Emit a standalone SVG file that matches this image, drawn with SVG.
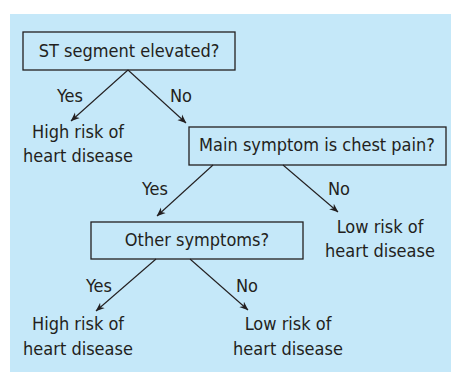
<svg xmlns="http://www.w3.org/2000/svg" width="451" height="372" viewBox="0 0 451 372">
<defs>
<marker id="ah" viewBox="0 0 10 10" refX="9.5" refY="5" markerWidth="9" markerHeight="9" orient="auto" markerUnits="userSpaceOnUse">
<path d="M0,1 L10,5 L0,9 L3,5 Z" fill="#231f20"/>
</marker>
<style>
text{font-family:"DejaVu Sans Condensed","DejaVu Sans",sans-serif;font-stretch:condensed;font-size:18px;fill:#231f20;text-anchor:middle}
.box{fill:none;stroke:#231f20;stroke-width:1.3}
.c line{stroke:#231f20;stroke-width:1.1;marker-end:url(#ah)}
</style>
</defs>
<rect x="10" y="14" width="441" height="358" fill="#c5e8f9"/>
<g id="q1"><rect class="box" x="23" y="32" width="212" height="38"/><text x="129" y="57">ST segment elevated?</text></g>
<g id="r1"><text x="78" y="138">High risk of</text><text x="78" y="162">heart disease</text></g>
<g id="q2"><rect class="box" x="189" y="127" width="257" height="38"/><text x="317" y="151">Main symptom is chest pain?</text></g>
<g id="r2"><text x="380" y="233">Low risk of</text><text x="380" y="257">heart disease</text></g>
<g id="q3"><rect class="box" x="91" y="222" width="212" height="37"/><text x="197" y="246">Other symptoms?</text></g>
<g id="r3"><text x="78" y="330">High risk of</text><text x="78" y="355">heart disease</text></g>
<g id="r4"><text x="288" y="330">Low risk of</text><text x="288" y="355">heart disease</text></g>
<g class="c" id="connectors">
<line x1="128" y1="70" x2="71" y2="121"/>
<line x1="128" y1="70" x2="186" y2="123"/>
<line x1="213" y1="165" x2="157" y2="216"/>
<line x1="283" y1="165" x2="338" y2="212"/>
<line x1="156" y1="259" x2="96" y2="311"/>
<line x1="190" y1="259" x2="248" y2="310"/>
</g>
<g id="labels">
<text x="70" y="102">Yes</text>
<text x="181" y="102">No</text>
<text x="155" y="195">Yes</text>
<text x="339" y="195">No</text>
<text x="99" y="292">Yes</text>
<text x="247" y="292">No</text>
</g>
</svg>
